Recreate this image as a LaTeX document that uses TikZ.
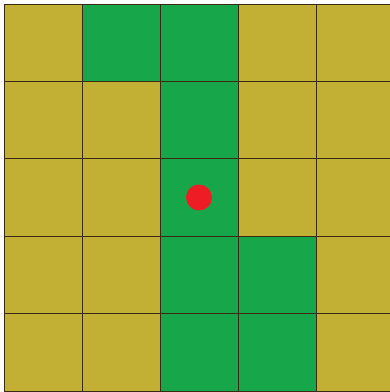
\documentclass[tikz,border=0pt]{standalone}
\usepackage{xcolor}
\usepackage{tikz}

\definecolor{olive}{HTML}{C1B033}
\definecolor{grass}{HTML}{17A74A}
\definecolor{dot}{HTML}{EE1D25}
\definecolor{gridline}{HTML}{3A2A12}

\begin{document}
\begin{tikzpicture}[
  x=78pt, y=77.4pt,
  cell/.style={fill=grass, draw=none},
  lines/.style={draw=gridline, line width=0.9pt},
]
\useasboundingbox (-4pt,-1pt) rectangle (386pt,391pt);
% background field
\fill[olive] (0,0) rectangle (5,5);
% green cells (column, row from bottom)
\foreach \c/\r in {1/4, 2/4, 2/3, 2/2, 2/1, 3/1, 2/0, 3/0}
  \fill[cell] (\c,\r) rectangle ++(1,1);
% grid
\draw[lines, step={(1,1)}] (0,0) grid (5,5);
% marker
\node[circle, fill=dot, minimum size=26pt, inner sep=0pt] (robot) at (2.5,2.5) {};
\end{tikzpicture}
\end{document}
